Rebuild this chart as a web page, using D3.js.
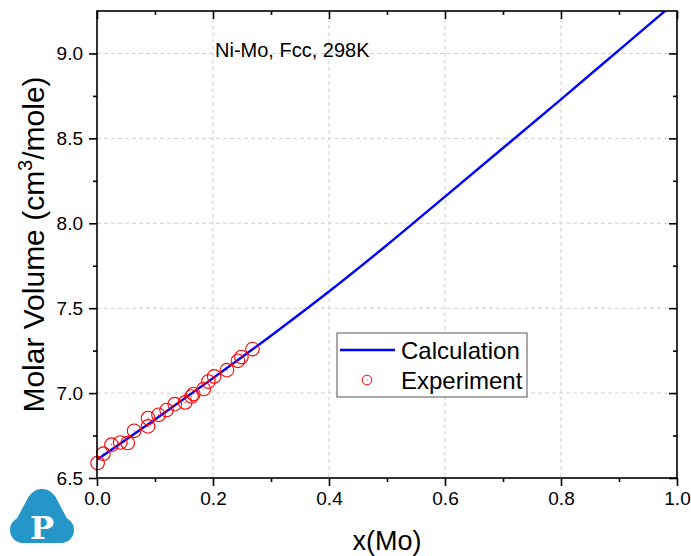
<!DOCTYPE html>
<html><head><meta charset="utf-8">
<script src="https://cdn.jsdelivr.net/npm/d3@7"></script>
<style>body{margin:0;background:#fff}svg{display:block}</style>
</head><body>
<script>
const calcX = [0, 0.1, 0.2, 0.3, 0.4, 0.5, 0.6, 0.7, 0.8, 0.9, 1.0];
const calcY = [6.608, 6.845, 7.088, 7.338, 7.598, 7.872, 8.157, 8.443, 8.730, 9.020, 9.310];
const expX = [0.001, 0.011, 0.025, 0.040, 0.053, 0.064, 0.088, 0.088, 0.106, 0.120, 0.134, 0.152, 0.163, 0.166, 0.184, 0.192, 0.202, 0.224, 0.243, 0.249, 0.268];
const expY = [6.588, 6.643, 6.696, 6.709, 6.706, 6.778, 6.853, 6.804, 6.872, 6.900, 6.935, 6.945, 6.980, 6.994, 7.024, 7.068, 7.098, 7.135, 7.190, 7.212, 7.259];
const xTicks = [0, 0.2, 0.4, 0.6, 0.8, 1.0];
const xMinor = [0.1, 0.3, 0.5, 0.7, 0.9];
const yTicks = [6.5, 7.0, 7.5, 8.0, 8.5, 9.0];
const yMinor = [6.75, 7.25, 7.75, 8.25, 8.75];

const W = 691, H = 556;
const L = 97, R = 677, T = 11, B = 478;
const svg = d3.select("body").append("svg").attr("width", W).attr("height", H)
  .style("font-family", "Arial, 'Liberation Sans', sans-serif");
const x = d3.scaleLinear().domain([0, 1]).range([L, R]);
const y = d3.scaleLinear().domain([6.5, 9.25]).range([B, T]);

// grid
const grid = svg.append("g").attr("stroke", "#d0d0d0").attr("stroke-dasharray", "4,3").attr("stroke-width", 1);
xTicks.filter(v => v > 0 && v < 1).forEach(v => grid.append("line").attr("x1", x(v)).attr("x2", x(v)).attr("y1", T).attr("y2", B));
yTicks.filter(v => v > 6.5).forEach(v => grid.append("line").attr("x1", L).attr("x2", R).attr("y1", y(v)).attr("y2", y(v)));

// clip
svg.append("clipPath").attr("id", "clip").append("rect").attr("x", L).attr("y", T).attr("width", R - L).attr("height", B - T);

// line
const lineData = calcX.map((v, i) => [v, calcY[i]]);
svg.append("path").datum(lineData).attr("clip-path", "url(#clip)")
  .attr("fill", "none").attr("stroke", "#0000ff").attr("stroke-width", 2.4)
  .attr("d", d3.line().x(d => x(d[0])).y(d => y(d[1])).curve(d3.curveMonotoneX));

// points
const pts = svg.append("g");
expX.forEach((v, i) => {
  pts.append("circle").attr("cx", x(v)).attr("cy", y(expY[i])).attr("r", 6.8)
    .attr("fill", "none").attr("stroke", "#ff0000").attr("stroke-width", 1.1);
  pts.append("circle").attr("cx", x(v)).attr("cy", y(expY[i])).attr("r", 0.6).attr("fill", "#ff0000");
});

// axes
svg.append("g").attr("transform", `translate(0,${B})`)
  .call(d3.axisBottom(x).tickValues(xTicks).tickSize(8).tickPadding(6).tickFormat(d3.format(".1f")));
svg.append("g").attr("transform", `translate(0,${B})`).call(d3.axisBottom(x).tickValues(xMinor).tickSize(4).tickFormat(""));
svg.append("g").attr("transform", `translate(${L},0)`)
  .call(d3.axisLeft(y).tickValues(yTicks).tickSize(8).tickPadding(6).tickFormat(d3.format(".1f")));
svg.append("g").attr("transform", `translate(${L},0)`).call(d3.axisLeft(y).tickValues(yMinor).tickSize(4).tickFormat(""));
svg.append("g").attr("transform", `translate(0,${T})`).call(d3.axisBottom(x).tickValues(xTicks).tickSize(8).tickFormat(""));
svg.append("g").attr("transform", `translate(0,${T})`).call(d3.axisBottom(x).tickValues(xMinor).tickSize(4).tickFormat(""));
svg.append("g").attr("transform", `translate(${R},0)`).call(d3.axisLeft(y).tickValues(yTicks).tickSize(8).tickFormat(""));
svg.append("g").attr("transform", `translate(${R},0)`).call(d3.axisLeft(y).tickValues(yMinor).tickSize(4).tickFormat(""));
svg.selectAll(".domain").remove();
svg.selectAll(".tick line").attr("stroke", "#000").attr("stroke-width", 1.6);
svg.selectAll(".tick text").attr("font-size", 19).attr("fill", "#000").style("font-family", "Arial, 'Liberation Sans', sans-serif");
svg.append("rect").attr("x", L).attr("y", T).attr("width", R - L).attr("height", B - T)
  .attr("fill", "none").attr("stroke", "#000").attr("stroke-width", 1.6);

// titles
svg.append("text").attr("x", (L + R) / 2).attr("y", 550).attr("text-anchor", "middle")
  .attr("font-size", 27).text("x(Mo)");
const yt = svg.append("text").attr("transform", `translate(44,${(T + B) / 2}) rotate(-90)`)
  .attr("text-anchor", "middle").attr("font-size", 30);
yt.append("tspan").text("Molar Volume (cm");
yt.append("tspan").attr("font-size", 20).attr("dy", -12).text("3");
yt.append("tspan").attr("dy", 12).text("/mole)");

svg.append("text").attr("x", 215).attr("y", 57).attr("font-size", 20).text("Ni-Mo, Fcc, 298K");

// legend
const lg = svg.append("g");
lg.append("rect").attr("x", 337).attr("y", 333).attr("width", 190).attr("height", 64)
  .attr("fill", "#fff").attr("stroke", "#555").attr("stroke-width", 1);
lg.append("line").attr("x1", 340).attr("x2", 395).attr("y1", 350).attr("y2", 350)
  .attr("stroke", "#0000ff").attr("stroke-width", 2.4);
lg.append("circle").attr("cx", 367).attr("cy", 380).attr("r", 4.8).attr("fill", "none").attr("stroke", "#ff0000").attr("stroke-width", 1);
lg.append("circle").attr("cx", 367).attr("cy", 380).attr("r", 0.6).attr("fill", "#ff0000");
lg.append("text").attr("x", 401).attr("y", 359).attr("font-size", 24).text("Calculation");
lg.append("text").attr("x", 401).attr("y", 389).attr("font-size", 24).text("Experiment");

// logo
const logo = svg.append("g").attr("fill", "#2596c8");
logo.append("circle").attr("cx", 42).attr("cy", 504).attr("r", 15);
logo.append("circle").attr("cx", 23).attr("cy", 530).attr("r", 13);
logo.append("circle").attr("cx", 61).attr("cy", 530).attr("r", 13);
logo.append("path").attr("d", "M29,496 L55,496 L70,524 L63,543 L21,543 L14,524 Z");
svg.append("text").attr("x", 42).attr("y", 539).attr("text-anchor", "middle")
  .attr("font-size", 32).attr("font-weight", "bold").attr("fill", "#fff")
  .style("font-family", "'DejaVu Serif', serif").text("P");
</script>
</body></html>
